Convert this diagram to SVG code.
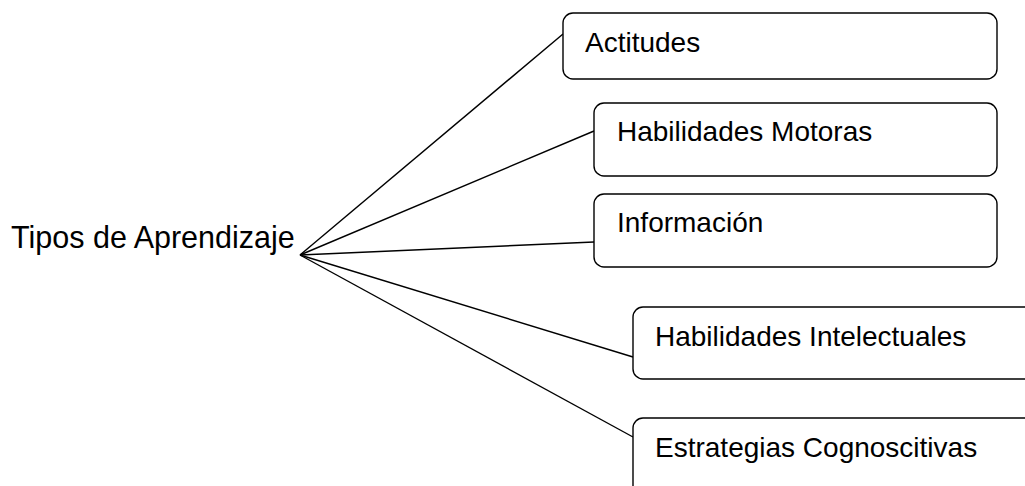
<svg xmlns="http://www.w3.org/2000/svg" width="1025" height="486" viewBox="0 0 1025 486">
<style>
.box{fill:#fff;stroke:#000;stroke-width:1.4}
.lbl{font-family:"Liberation Sans",Arial,sans-serif;font-size:28px;fill:#000}
.root{font-family:"Liberation Sans",Arial,sans-serif;font-size:30.5px;fill:#000}
.edge{stroke:#000;stroke-width:1.4;fill:none}
</style>
<rect width="1025" height="486" fill="#fff"/>
<g id="connectors">
<line class="edge" x1="300" y1="255" x2="563" y2="34"/>
<line class="edge" x1="300" y1="255" x2="594" y2="131"/>
<line class="edge" x1="300" y1="255" x2="594" y2="242"/>
<line class="edge" x1="300" y1="255" x2="633" y2="357"/>
<line class="edge" x1="300" y1="255" x2="633" y2="437"/>
</g>
<g id="root"><text class="root" x="11" y="248">Tipos de Aprendizaje</text></g>
<g id="n1"><rect class="box" x="563" y="13" width="434" height="66" rx="10"/><text class="lbl" x="585" y="52">Actitudes</text></g>
<g id="n2"><rect class="box" x="594" y="103" width="403" height="73" rx="10"/><text class="lbl" x="617" y="141">Habilidades Motoras</text></g>
<g id="n3"><rect class="box" x="594" y="194" width="403" height="73" rx="10"/><text class="lbl" x="617" y="232">Información</text></g>
<g id="n4"><rect class="box" x="633" y="307" width="420" height="72" rx="10"/><text class="lbl" x="655" y="346">Habilidades Intelectuales</text></g>
<g id="n5"><rect class="box" x="633" y="418" width="420" height="100" rx="10"/><text class="lbl" x="655" y="457">Estrategias Cognoscitivas</text></g>
</svg>
